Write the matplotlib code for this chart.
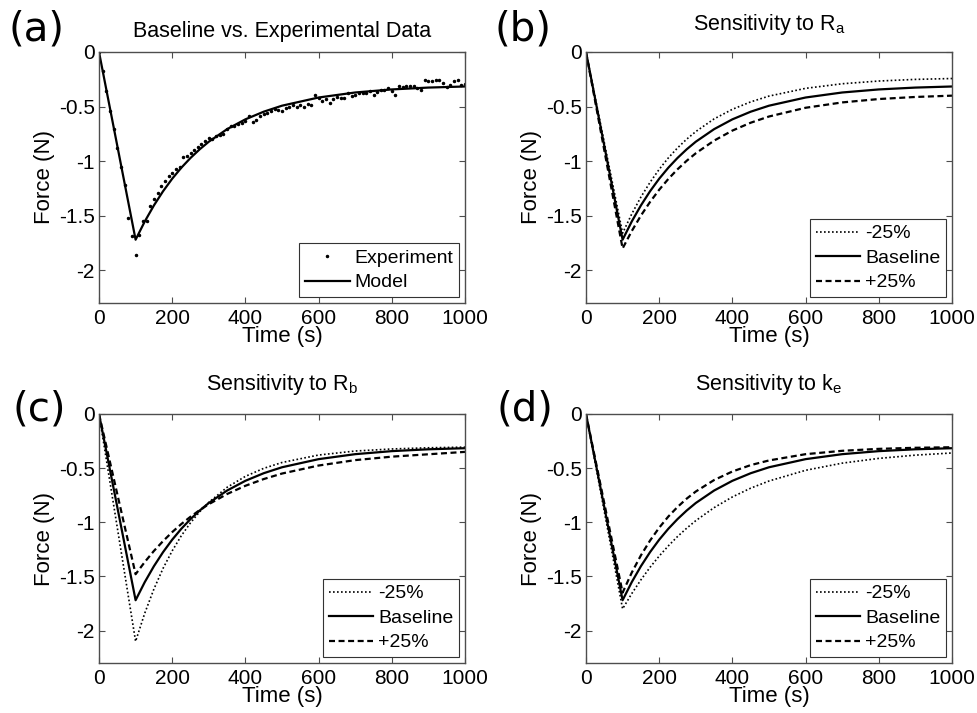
import matplotlib
matplotlib.use("Agg")
import matplotlib.pyplot as plt

plt.rcParams["font.family"] = ["Liberation Sans", "DejaVu Sans"]
plt.rcParams["mathtext.default"] = "regular"
plt.rcParams["axes.unicode_minus"] = False

# ----- data -----
t_exp = list(range(0, 1001, 10))
f_exp = [0.00, -0.17, -0.36, -0.54, -0.71, -0.88, -1.05, -1.22, -1.52, -1.69,
         -1.86, -1.68, -1.55, -1.55, -1.41, -1.35, -1.29, -1.23, -1.18, -1.14,
         -1.11, -1.07, -1.05, -0.96, -0.95, -0.93, -0.90, -0.87, -0.84, -0.82,
         -0.79, -0.80, -0.77, -0.76, -0.75, -0.71, -0.68, -0.68, -0.66, -0.65,
         -0.63, -0.59, -0.64, -0.62, -0.59, -0.57, -0.56, -0.54, -0.52, -0.53,
         -0.54, -0.51, -0.50, -0.49, -0.50, -0.49, -0.50, -0.48, -0.49, -0.39,
         -0.42, -0.45, -0.43, -0.47, -0.43, -0.41, -0.42, -0.42, -0.38, -0.40,
         -0.39, -0.38, -0.38, -0.38, -0.36, -0.39, -0.37, -0.35, -0.35, -0.33,
         -0.36, -0.39, -0.31, -0.32, -0.31, -0.31, -0.31, -0.33, -0.35, -0.26,
         -0.27, -0.27, -0.26, -0.26, -0.28, -0.32, -0.30, -0.27, -0.26, -0.30,
         -0.29]

t_model = [0, 100, 125, 150, 175, 200, 225, 250, 275, 300, 350, 400, 450,
           500, 600, 700, 800, 900, 1000]
baseline = [0, -1.72, -1.553, -1.406, -1.276, -1.161, -1.060, -0.971, -0.892,
            -0.822, -0.707, -0.617, -0.547, -0.492, -0.417, -0.371, -0.343,
            -0.326, -0.316]

ra_minus = [0, -1.66, -1.484, -1.329, -1.194, -1.075, -0.970, -0.879, -0.799,
            -0.729, -0.613, -0.525, -0.457, -0.404, -0.333, -0.291, -0.266,
            -0.251, -0.243]
ra_plus = [0, -1.80, -1.641, -1.499, -1.374, -1.262, -1.163, -1.075, -0.997,
           -0.928, -0.812, -0.720, -0.648, -0.591, -0.511, -0.462, -0.431,
           -0.412, -0.400]

rb_minus = [0, -2.10, -1.840, -1.617, -1.426, -1.264, -1.124, -1.005, -0.903,
            -0.816, -0.677, -0.576, -0.502, -0.448, -0.379, -0.342, -0.323,
            -0.312, -0.306]
rb_plus = [0, -1.48, -1.367, -1.265, -1.174, -1.091, -1.016, -0.949, -0.888,
           -0.833, -0.739, -0.663, -0.601, -0.550, -0.476, -0.426, -0.394,
           -0.372, -0.350]

ke_minus = [0, -1.80, -1.659, -1.532, -1.416, -1.312, -1.218, -1.132, -1.055,
            -0.985, -0.865, -0.766, -0.685, -0.619, -0.520, -0.454, -0.410,
            -0.380, -0.360]
ke_plus = [0, -1.65, -1.465, -1.306, -1.169, -1.050, -0.947, -0.859, -0.782,
           -0.716, -0.610, -0.531, -0.472, -0.429, -0.371, -0.340, -0.322,
           -0.312, -0.307]

xticks = [0, 200, 400, 600, 800, 1000]
yticks = [0, -0.5, -1, -1.5, -2]
yticklabels = ["0", "-0.5", "-1", "-1.5", "-2"]

W, H = 977, 713
fig = plt.figure(figsize=(W / 100, H / 100), dpi=100)
axis_grey = "#4d4d4d"


def make_axes(left, top, right, bottom):
    return fig.add_axes([left / W, 1 - bottom / H, (right - left) / W, (bottom - top) / H])


def style(ax, title, pad):
    ax.set_xlim(0, 1000)
    ax.set_ylim(-2.3, 0)
    ax.set_xticks(xticks)
    ax.set_yticks(yticks)
    ax.set_yticklabels(yticklabels)
    ax.tick_params(direction="in", length=4, width=0.8, labelsize=15,
                   top=True, right=True, color=axis_grey)
    ax.tick_params(axis="x", pad=4)
    ax.tick_params(axis="y", pad=3)
    ax.set_xlabel("Time (s)", fontsize=16, labelpad=-1)
    ax.set_ylabel("Force (N)", fontsize=16, labelpad=3)
    ax.set_title(title, fontsize=15.5, pad=pad)
    for s in ax.spines.values():
        s.set_linewidth(1.0)
        s.set_color(axis_grey)
    leg = ax.legend(loc="lower right", fontsize=14, frameon=True, fancybox=False,
                    edgecolor="#333333", framealpha=1, borderaxespad=0.3,
                    handlelength=2.3, handletextpad=0.25, labelspacing=0.35,
                    borderpad=0.3)
    leg.get_frame().set_linewidth(0.8)


dot = (0, (1, 1.4))
dash = (0, (2.7, 1.6))

# (a)
ax = make_axes(99, 52, 465, 303)
ax.plot(t_exp, f_exp, ".", color="black", ms=3, label="Experiment")
ax.plot(t_model, baseline, "-", color="black", lw=1.6, label="Model")
style(ax, "Baseline vs. Experimental Data", 11)

# (b)
ax = make_axes(586, 52, 952, 303)
ax.plot(t_model, ra_minus, color="black", lw=1.2, ls=dot, label="-25%")
ax.plot(t_model, baseline, color="black", lw=1.6, label="Baseline")
ax.plot(t_model, ra_plus, color="black", lw=1.6, ls=dash, label="+25%")
style(ax, "Sensitivity to R$_a$", 16)

# (c)
ax = make_axes(99, 414, 465, 663)
ax.plot(t_model, rb_minus, color="black", lw=1.2, ls=dot, label="-25%")
ax.plot(t_model, baseline, color="black", lw=1.6, label="Baseline")
ax.plot(t_model, rb_plus, color="black", lw=1.6, ls=dash, label="+25%")
style(ax, "Sensitivity to R$_b$", 17)

# (d)
ax = make_axes(586, 414, 952, 663)
ax.plot(t_model, ke_minus, color="black", lw=1.2, ls=dot, label="-25%")
ax.plot(t_model, baseline, color="black", lw=1.6, label="Baseline")
ax.plot(t_model, ke_plus, color="black", lw=1.6, ls=dash, label="+25%")
style(ax, "Sensitivity to k$_e$", 17)

# panel letters
for lab, x, y in [("(a)", 8, 9), ("(b)", 495, 9), ("(c)", 12, 389), ("(d)", 497, 389)]:
    fig.text(x / W, 1 - y / H, lab, fontsize=29, family=["DejaVu Sans"],
             ha="left", va="top")

fig.savefig("out.png", dpi=100)
